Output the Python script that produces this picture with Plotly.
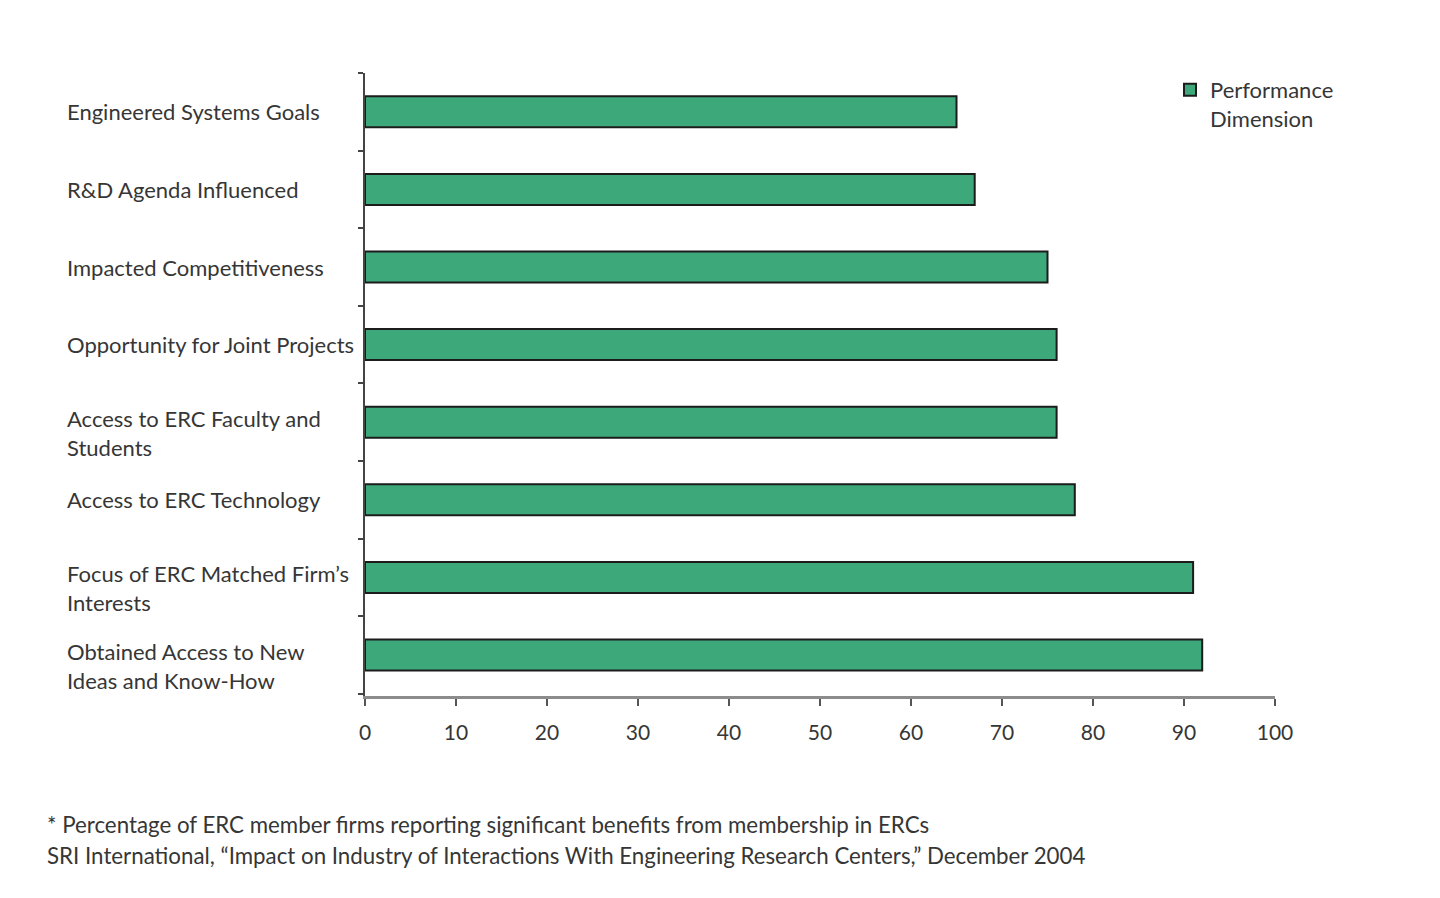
import plotly.graph_objects as go

categories = [
    "Engineered Systems Goals",
    "R&D Agenda Influenced",
    "Impacted Competitiveness",
    "Opportunity for Joint Projects",
    "Access to ERC Faculty and<br>Students",
    "Access to ERC Technology",
    "Focus of ERC Matched Firm’s<br>Interests",
    "Obtained Access to New<br>Ideas and Know-How",
]
values = [65, 67, 75, 76, 76, 78, 91, 92]
series_name = "Performance<br>Dimension"
x_ticks = [0, 10, 20, 30, 40, 50, 60, 70, 80, 90, 100]
footnotes = [
    "* Percentage of ERC member firms reporting significant benefits from membership in ERCs",
    "SRI International, “Impact on Industry of Interactions With Engineering Research Centers,” December 2004",
]

FONT = "Lato, 'Open Sans', sans-serif"
TXT = "#363636"

# page has an 8px body margin
OFF = 8
W, H = 1440, 898
PL, PR, PT, PB = 365, 1275, 73, 696  # plot area in page pixels
L = PL - OFF
R = W + OFF - PR
T = PT - OFF
B = H + OFF - PB
pw, ph = PR - PL, PB - PT

def px_to_paper_x(px):
    return (px - PL) / pw

def px_to_paper_y(py):
    return (PB - py) / ph

fig = go.Figure()
fig.add_trace(go.Bar(
    x=values, y=categories, orientation="h", name=series_name,
    marker=dict(color="#3da87a", line=dict(color="#1c1c1c", width=2)),
    width=0.4, showlegend=True,
))

annotations = []
for c in categories:
    annotations.append(dict(
        x=px_to_paper_x(65), xref="paper", y=c, yref="y", text=c, showarrow=False,
        xanchor="left", yanchor="middle", align="left",
        yshift=-11 if "<br>" in c else 0,
        font=dict(family=FONT, size=22, color=TXT),
    ))
for t, fy in zip(footnotes, [825, 855]):
    annotations.append(dict(
        x=px_to_paper_x(45), xref="paper", y=px_to_paper_y(fy), yref="paper",
        text=t, showarrow=False, xanchor="left", yanchor="middle", align="left",
        font=dict(family=FONT, size=22.3, color=TXT),
    ))

fig.update_layout(
    width=W, height=H,
    margin=dict(l=L, r=R, t=T, b=B),
    paper_bgcolor="white", plot_bgcolor="white",
    font=dict(family=FONT, size=22, color=TXT),
    xaxis=dict(
        range=[0, 100], tickvals=x_ticks, ticks="outside", ticklen=7,
        tickcolor="#555", tickwidth=1.5, ticklabelstandoff=9,
        showline=True, linecolor="#8c8c8c", linewidth=2.5,
        showgrid=False, zeroline=False,
        tickfont=dict(family=FONT, size=21, color=TXT),
    ),
    yaxis=dict(
        categoryorder="array", categoryarray=categories[::-1],
        showticklabels=False, ticks="outside", tickson="boundaries",
        ticklen=5, tickcolor="#444", tickwidth=1.5,
        showline=True, linecolor="#444", linewidth=1.5,
        showgrid=False, zeroline=False,
    ),
    legend=dict(
        x=px_to_paper_x(1170), y=px_to_paper_y(69), xanchor="left", yanchor="top",
        valign="top",
        font=dict(family=FONT, size=22, color=TXT),
        bgcolor="rgba(0,0,0,0)",
    ),
    annotations=annotations,
    bargap=0.6,
)

fig.write_html("out.html")
